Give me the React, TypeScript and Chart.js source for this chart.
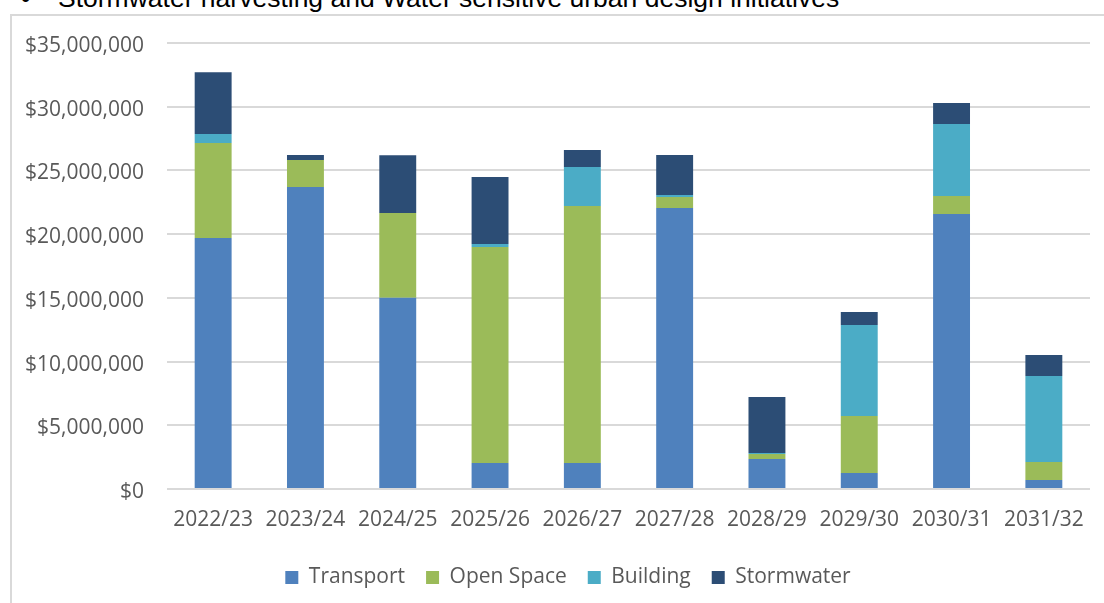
import React, { useEffect, useRef } from "react";
import { Chart, registerables } from "chart.js";

Chart.register(...registerables);

const categories = ["2022/23", "2023/24", "2024/25", "2025/26", "2026/27", "2027/28", "2028/29", "2029/30", "2030/31", "2031/32"];
const transport = [19700000, 23700000, 15000000, 2040000, 2040000, 22050000, 2350000, 1260000, 21580000, 710000];
const openSpace = [7450000, 2120000, 6650000, 16950000, 20170000, 860000, 400000, 4470000, 1410000, 1410000];
const building = [700000, 0, 0, 240000, 3060000, 160000, 80000, 7140000, 5650000, 6750000];
const stormwater = [4860000, 390000, 4550000, 5250000, 1330000, 3140000, 4390000, 1020000, 1650000, 1650000];
const yTickValues = [0, 5000000, 10000000, 15000000, 20000000, 25000000, 30000000, 35000000];
const seriesNames = ["Transport", "Open Space", "Building", "Stormwater"];
const seriesColors = ["#4F81BD", "#9BBB59", "#4BACC6", "#2C4D75"];
const headerText = "Stormwater harvesting and Water sensitive urban design initiatives";

const FONT = "'Open Sans', 'Noto Sans', sans-serif";
const TEXT = "#595959";

const legendShift = {
  id: "legendShift",
  afterLayout(chart: any) {
    const lg = chart.legend;
    if (lg) {
      lg.left += 23;
      lg.right += 23;
    }
  },
};

export default function App() {
  const ref = useRef<HTMLCanvasElement | null>(null);

  useEffect(() => {
    if (!ref.current) return;
    const seriesData = [transport, openSpace, building, stormwater];
    const chart = new Chart(ref.current, {
      type: "bar",
      data: {
        labels: categories,
        datasets: seriesNames.map((name, i) => ({
          label: name,
          data: seriesData[i],
          backgroundColor: seriesColors[i],
          borderWidth: 0,
          barPercentage: 0.4,
          categoryPercentage: 1,
        })),
      },
      plugins: [legendShift],
      options: {
        responsive: false,
        animation: false,
        layout: { padding: { left: 0, right: 14, top: 43, bottom: 5 } },
        plugins: {
          tooltip: { enabled: false },
          legend: {
            position: "bottom",
            labels: {
              font: { family: FONT, size: 21 },
              color: TEXT,
              boxWidth: 13,
              boxHeight: 13,
              padding: 21,
            },
          },
        },
        scales: {
          x: {
            stacked: true,
            grid: { display: false, drawTicks: false },
            border: { display: false },
            ticks: { font: { family: FONT, size: 21 }, color: TEXT, padding: 18, maxRotation: 0, autoSkip: false },
            afterFit: (scale: any) => {
              scale.height = 57;
            },
          },
          y: {
            stacked: true,
            min: 0,
            max: 35000000,
            afterBuildTicks: (scale: any) => {
              scale.ticks = yTickValues.map((v) => ({ value: v }));
            },
            grid: { color: "#d9d9d9", lineWidth: 2, drawTicks: false },
            border: { display: false },
            ticks: {
              font: { family: FONT, size: 21 },
              color: TEXT,
              padding: 23,
              labelOffset: 3,
              callback: (v: any) => "$" + Number(v).toLocaleString("en-US"),
            },
            afterFit: (scale: any) => {
              scale.width = 167;
            },
          },
        },
      },
    });
    return () => chart.destroy();
  }, []);

  return (
    <div style={{ position: "fixed", left: 0, top: 0, width: 1104, height: 603, overflow: "hidden", background: "#fff" }}>
      <div
        style={{
          position: "absolute",
          left: 21,
          top: -15,
          fontFamily: "'Liberation Sans', Arial, sans-serif",
          fontSize: 26.5,
          lineHeight: "26px",
          color: "#000",
          whiteSpace: "nowrap",
        }}
      >
        <span>•</span>
        <span style={{ position: "absolute", left: 37 }}>{headerText}</span>
      </div>
      <div
        style={{
          position: "absolute",
          left: 10,
          top: 14,
          width: 1200,
          height: 700,
          borderLeft: "2px solid #d9d9d9",
          borderTop: "2px solid #d9d9d9",
        }}
      />
      <canvas ref={ref} width={1104} height={603} style={{ position: "absolute", left: 0, top: 0, width: 1104, height: 603 }} />
    </div>
  );
}
